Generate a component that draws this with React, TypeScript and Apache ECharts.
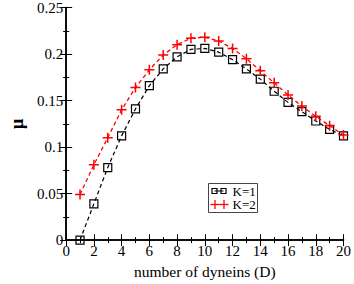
import React, { useEffect, useRef } from 'react';
import * as echarts from 'echarts';

const dyneins = [1, 2, 3, 4, 5, 6, 7, 8, 9, 10, 11, 12, 13, 14, 15, 16, 17, 18, 19, 20];
const muK1 = [0, 0.039, 0.078, 0.112, 0.141, 0.166, 0.184, 0.197, 0.205, 0.206, 0.202, 0.194, 0.184, 0.173, 0.16, 0.148, 0.138, 0.128, 0.119, 0.112];
const muK2 = [0.049, 0.081, 0.11, 0.14, 0.164, 0.183, 0.199, 0.21, 0.217, 0.218, 0.214, 0.206, 0.195, 0.182, 0.169, 0.156, 0.144, 0.133, 0.123, 0.113];
const seriesNames = ['K=1', 'K=2'];
const xLabel = 'number of dyneins (D)';
const yLabel = 'μ';

const FONT = "'Liberation Serif', 'Times New Roman', serif";
const PLUS = 'path://M5,0 L5,10 M0,5 L10,5';
const SQUARE = 'path://M0,0 L10,0 L10,10 L0,10 Z';

export default function App() {
  const ref = useRef<HTMLDivElement>(null);
  useEffect(() => {
    if (!ref.current) return;
    const chart = echarts.init(ref.current, null, { renderer: 'svg' });
    const axisCommon = (show: boolean) => ({
      axisLine: { show: true, lineStyle: { color: '#000', width: 1.5 } },
      axisTick: { show: true, inside: true, length: 6, lineStyle: { color: '#000', width: 1 } },
      minorTick: { show: true, splitNumber: 2, length: 3, lineStyle: { color: '#000', width: 1 } },
      splitLine: { show: false },
      axisLabel: show
        ? { show: true, color: '#000', fontFamily: FONT, fontSize: 15 }
        : { show: false },
    });
    const legendX = 208;
    const legendY = 183;
    chart.setOption({
      animation: false,
      backgroundColor: '#fff',
      grid: { left: 41, right: 8, top: 7, bottom: 34, containLabel: false },
      xAxis: [
        {
          type: 'value', position: 'bottom', min: 0, max: 20, interval: 2,
          ...axisCommon(true),
          axisLabel: { show: true, color: '#000', fontFamily: FONT, fontSize: 15, margin: 3 },
          name: xLabel, nameLocation: 'middle', nameGap: 17,
          nameTextStyle: { color: '#000', fontFamily: FONT, fontSize: 15.5 },
        },
        { type: 'value', position: 'top', min: 0, max: 20, interval: 2, ...axisCommon(false) },
      ],
      yAxis: [
        {
          type: 'value', position: 'left', min: 0, max: 0.25, interval: 0.05,
          ...axisCommon(true),
          axisLabel: { show: true, color: '#000', fontFamily: FONT, fontSize: 15, margin: 3 },
          name: yLabel, nameLocation: 'middle', nameGap: 34,
          nameTextStyle: { color: '#000', fontFamily: FONT, fontSize: 18, fontWeight: 'bold' },
        },
        { type: 'value', position: 'right', min: 0, max: 0.25, interval: 0.05, ...axisCommon(false) },
      ],
      series: [
        {
          name: seriesNames[0], type: 'line',
          data: dyneins.map((d, i) => [d, muK1[i]]),
          symbol: SQUARE, symbolSize: 8,
          lineStyle: { color: '#000', width: 1.2, type: [4, 3] },
          itemStyle: { color: 'transparent', borderColor: '#000', borderWidth: 1.2 },
          z: 2,
        },
        {
          name: seriesNames[1], type: 'line',
          data: dyneins.map((d, i) => [d, muK2[i]]),
          symbol: PLUS, symbolSize: 10,
          lineStyle: { color: '#ff0000', width: 1.3, type: [4, 3] },
          itemStyle: { color: '#ff0000', borderColor: '#ff0000', borderWidth: 1.5 },
          z: 3,
        },
      ],
      graphic: [
        {
          type: 'group', left: legendX, top: legendY,
          children: [
            { type: 'rect', shape: { x: 0, y: 0, width: 49, height: 29 }, style: { fill: '#fff', stroke: '#444', lineWidth: 1 } },
            { type: 'line', shape: { x1: 6, y1: 7.5, x2: 15, y2: 7.5 }, style: { stroke: '#000', lineWidth: 1 } },
            { type: 'rect', shape: { x: 3.5, y: 5, width: 5, height: 5 }, style: { fill: 'none', stroke: '#000', lineWidth: 1.2 } },
            { type: 'rect', shape: { x: 12.5, y: 5, width: 5, height: 5 }, style: { fill: 'none', stroke: '#000', lineWidth: 1.2 } },
            { type: 'line', shape: { x1: 2, y1: 21, x2: 11, y2: 21 }, style: { stroke: '#ff0000', lineWidth: 1.3 } },
            { type: 'line', shape: { x1: 6.5, y1: 16.5, x2: 6.5, y2: 25.5 }, style: { stroke: '#ff0000', lineWidth: 1.3 } },
            { type: 'line', shape: { x1: 11, y1: 21, x2: 20, y2: 21 }, style: { stroke: '#ff0000', lineWidth: 1.3 } },
            { type: 'line', shape: { x1: 15.5, y1: 16.5, x2: 15.5, y2: 25.5 }, style: { stroke: '#ff0000', lineWidth: 1.3 } },
            { type: 'text', x: 24, y: 7.5, style: { text: seriesNames[0], fontFamily: FONT, fontSize: 13, fill: '#000', verticalAlign: 'middle' } },
            { type: 'text', x: 24, y: 21, style: { text: seriesNames[1], fontFamily: FONT, fontSize: 13, fill: '#000', verticalAlign: 'middle' } },
          ],
        },
      ],
    });
    return () => chart.dispose();
  }, []);
  return <div ref={ref} style={{ position: 'fixed', left: 0, top: 0, width: 354, height: 284 }} />;
}
